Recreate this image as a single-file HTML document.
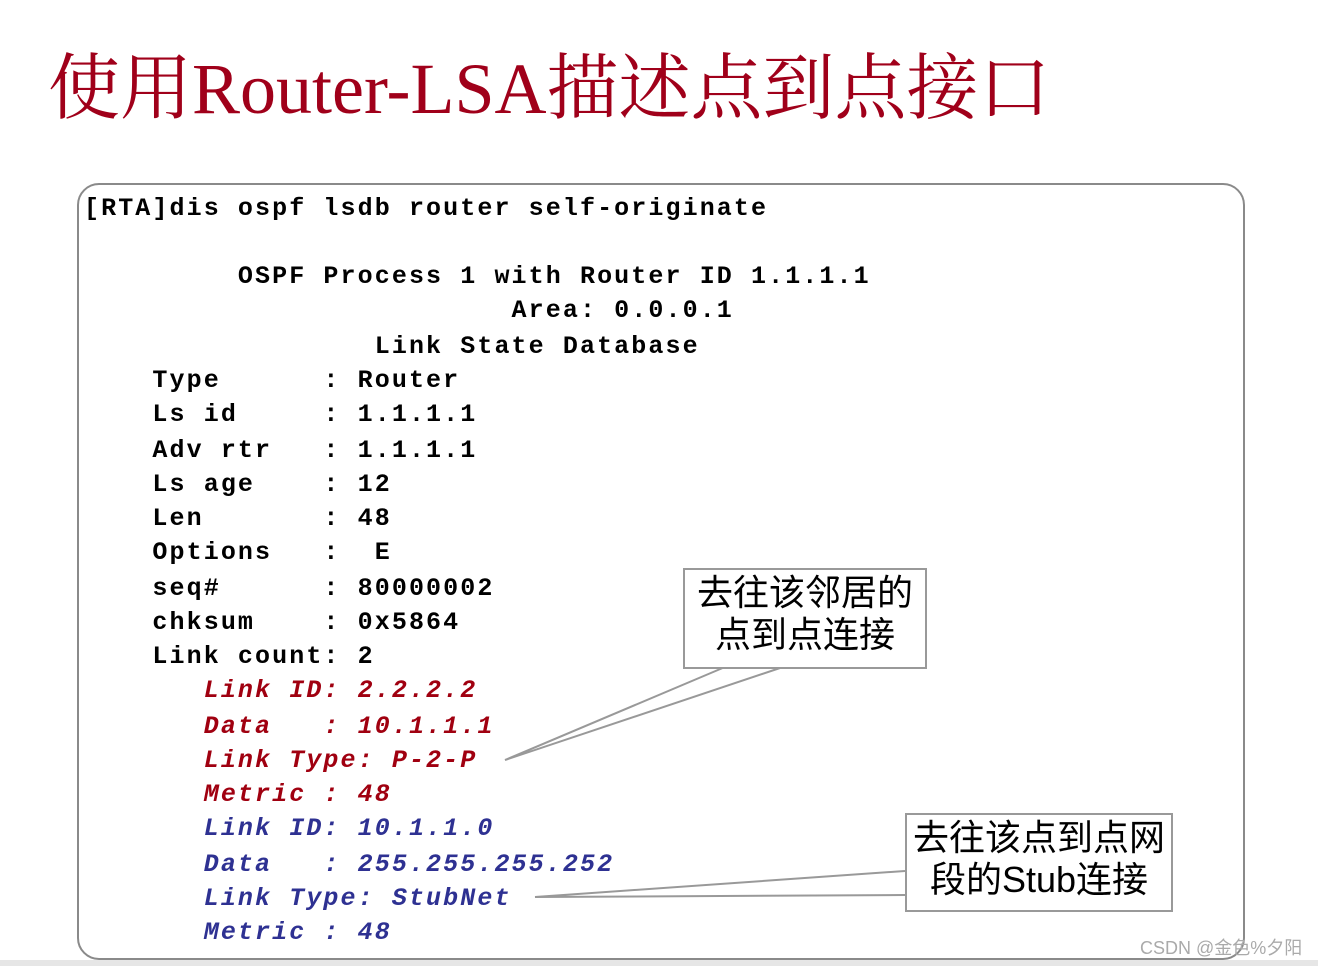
<!DOCTYPE html>
<html><head><meta charset="utf-8"><style>
body{margin:0;width:1318px;height:966px;background:#fff;position:relative;overflow:hidden}
.t{position:absolute;left:48px;top:30px;font-family:"Liberation Serif","Noto Serif CJK SC",serif;font-size:72px;color:#a0001a;white-space:nowrap}
.box{position:absolute;left:77px;top:183px;width:1164px;height:773px;border:2px solid #8a8a8a;border-radius:22px}
.l{position:absolute;left:84px;font-family:"Liberation Mono",monospace;font-weight:bold;font-size:25px;letter-spacing:2.1px;white-space:pre;line-height:30px;color:#000}
.r{color:#a00010;font-style:italic}.b{color:#2e3192;font-style:italic}
.c{position:absolute;background:#fff;border:2px solid #999;font-family:"Liberation Sans","Noto Sans CJK SC",sans-serif;font-size:36px;line-height:42px;text-align:center;color:#000}
</style></head><body>
<div class="t">使用Router-LSA描述点到点接口</div>
<div class="box"></div>
<div class="l" style="top:194px">[RTA]dis ospf lsdb router self-originate</div>
<div class="l" style="top:262px">         OSPF Process 1 with Router ID 1.1.1.1</div>
<div class="l" style="top:296px">                         Area: 0.0.0.1</div>
<div class="l" style="top:332px">                 Link State Database</div>
<div class="l" style="top:366px">    Type      : Router</div>
<div class="l" style="top:400px">    Ls id     : 1.1.1.1</div>
<div class="l" style="top:436px">    Adv rtr   : 1.1.1.1</div>
<div class="l" style="top:470px">    Ls age    : 12</div>
<div class="l" style="top:504px">    Len       : 48</div>
<div class="l" style="top:538px">    Options   :  E</div>
<div class="l" style="top:574px">    seq#      : 80000002</div>
<div class="l" style="top:608px">    chksum    : 0x5864</div>
<div class="l" style="top:642px">    Link count: 2</div>
<div class="l r" style="top:676px">       Link ID: 2.2.2.2</div>
<div class="l r" style="top:712px">       Data   : 10.1.1.1</div>
<div class="l r" style="top:746px">       Link Type: P-2-P</div>
<div class="l r" style="top:780px">       Metric : 48</div>
<div class="l b" style="top:814px">       Link ID: 10.1.1.0</div>
<div class="l b" style="top:850px">       Data   : 255.255.255.252</div>
<div class="l b" style="top:884px">       Link Type: StubNet</div>
<div class="l b" style="top:918px">       Metric : 48</div>
<svg style="position:absolute;left:0;top:0" width="1318" height="966">
<polyline points="725,667 505,760 783,667" fill="none" stroke="#999" stroke-width="2"/>
<polyline points="905,871 535,897 905,895" fill="none" stroke="#999" stroke-width="2"/>
</svg>
<div class="c" style="left:683px;top:568px;width:240px;height:95px;padding-top:2px">去往该邻居的<br>点到点连接</div>
<div class="c" style="left:905px;top:813px;width:264px;height:93px;padding-top:2px">去往该点到点网<br>段的Stub连接</div>
<div style="position:absolute;left:0;top:960px;width:1318px;height:6px;background:#e6e6e6"></div>
<div style="position:absolute;left:1140px;top:934px;font-family:'Liberation Sans','Noto Sans CJK SC',sans-serif;font-size:18px;color:#aaa">CSDN @金色%夕阳</div>
</body></html>
